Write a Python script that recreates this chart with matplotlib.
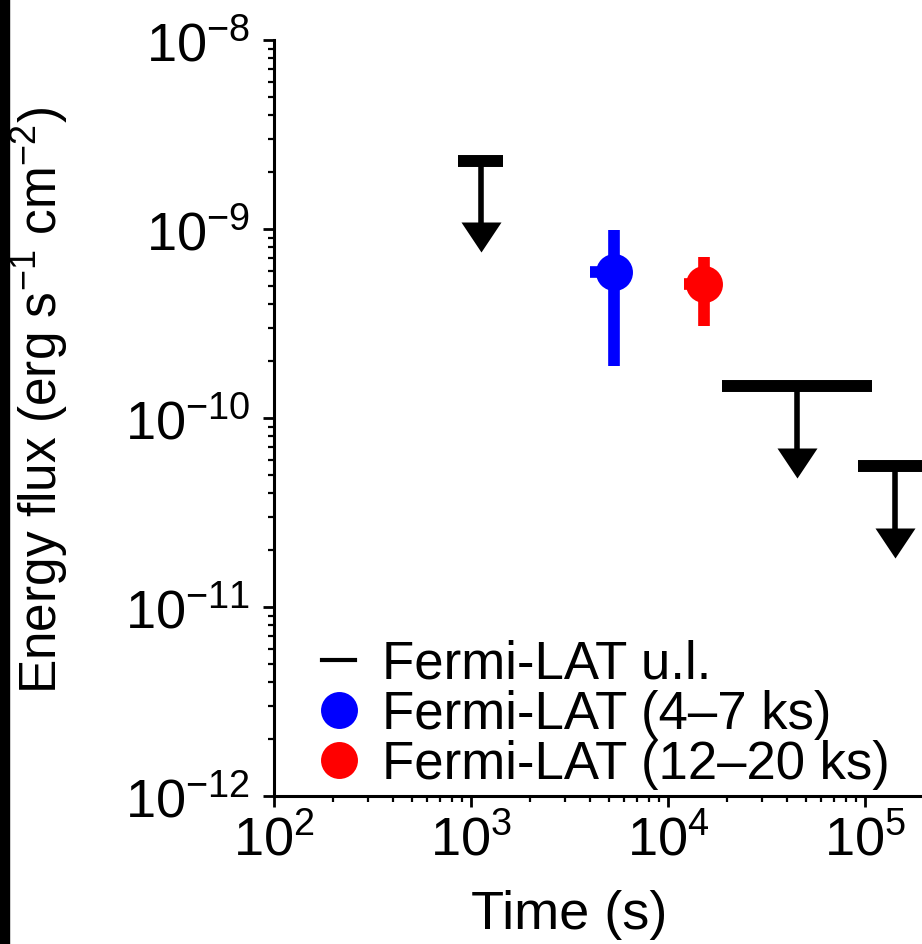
import numpy as np
import matplotlib
matplotlib.use("Agg")
import matplotlib.pyplot as plt
from matplotlib.lines import Line2D
from matplotlib.patches import Rectangle

plt.rcParams['font.family'] = ['Liberation Sans', 'DejaVu Sans']
plt.rcParams['mathtext.fontset'] = 'custom'
plt.rcParams['mathtext.rm'] = 'Liberation Sans'
plt.rcParams['mathtext.it'] = 'Liberation Sans:italic'
plt.rcParams['mathtext.bf'] = 'Liberation Sans:bold'

# ---- data ----
ul_time = [1120, 45200, 142000]
ul_time_lo = [860, 18800, 92000]
ul_time_hi = [1450, 108600, 219000]
ul_flux = [2.3e-9, 1.47e-10, 5.57e-11]

blue_time = [5320]
blue_time_lo = [4000]
blue_time_hi = [6200]
blue_flux = [5.9e-10]
blue_flux_lo = [1.88e-10]
blue_flux_hi = [9.9e-10]

red_time = [15240]
red_time_lo = [12000]
red_time_hi = [17800]
red_flux = [5.1e-10]
red_flux_lo = [3.07e-10]
red_flux_hi = [7.1e-10]

legend_labels = ['Fermi-LAT u.l.', 'Fermi-LAT (4\u20137 ks)', 'Fermi-LAT (12\u201320 ks)']

# ---- figure ----
W, H, DPI = 922, 945, 100
fig = plt.figure(figsize=(W / DPI, H / DPI), dpi=DPI)
ax = fig.add_axes([274 / W, 1 - 797 / H, 1 - 274 / W, (797 - 41) / H])

FS = 39
LFS = 38
ax.set_xscale('log')
ax.set_yscale('log')
ax.set_xlim(1e2, 10 ** (2 + 648 / 197))
ax.set_ylim(1e-12, 1e-8)

# upper limits
arrow_dex = 0.485
ul_time = np.array(ul_time); ul_flux = np.array(ul_flux)
ax.hlines(ul_flux, ul_time_lo, ul_time_hi, colors='k', lw=8.6, zorder=3)
tips = ul_flux / 10 ** arrow_dex
ax.vlines(ul_time, tips * 10 ** 0.09, ul_flux, colors='k', lw=4.0, zorder=3)
tri = [(0, 0), (-1, 1.5), (1, 1.5), (0, 0)]
ax.plot(ul_time, tips, ls='none', marker=tri, ms=43.2, color='k', mew=0, zorder=3)

# detections
def det(t, tlo, thi, f, flo, fhi, c):
    t = np.array(t); f = np.array(f)
    xerr = [t - np.array(tlo), np.array(thi) - t]
    yerr = [f - np.array(flo), np.array(fhi) - f]
    ax.errorbar(t, f, xerr=xerr, yerr=yerr, fmt='o', color=c, ms=26.6, mew=0,
                elinewidth=8.4, capsize=0, zorder=4)

det(blue_time, blue_time_lo, blue_time_hi, blue_flux, blue_flux_lo, blue_flux_hi, 'blue')
det(red_time, red_time_lo, red_time_hi, red_flux, red_flux_lo, red_flux_hi, 'red')

# axes styling
for s in ['top', 'right']:
    ax.spines[s].set_visible(False)
for s in ['left', 'bottom']:
    ax.spines[s].set_linewidth(2.2)
ax.tick_params(which='major', direction='out', length=8, width=2.0, labelsize=FS)
ax.tick_params(which='minor', direction='out', length=4.5, width=1.6)
ax.tick_params(axis='y', which='major', pad=9)
ax.tick_params(axis='x', which='major', pad=5)
ax.xaxis.set_major_locator(matplotlib.ticker.LogLocator(base=10, numticks=10))
ax.yaxis.set_major_locator(matplotlib.ticker.LogLocator(base=10, numticks=10))
ax.xaxis.set_minor_locator(matplotlib.ticker.LogLocator(base=10, subs=np.arange(2, 10), numticks=20))
ax.yaxis.set_minor_locator(matplotlib.ticker.LogLocator(base=10, subs=np.arange(2, 10), numticks=20))
ax.xaxis.set_minor_formatter(matplotlib.ticker.NullFormatter())
ax.yaxis.set_minor_formatter(matplotlib.ticker.NullFormatter())

ax.set_xlabel('Time (s)', fontsize=FS)
ax.set_ylabel('Energy flux (erg s$^{-1}$ cm$^{-2}$)', fontsize=37)
ax.xaxis.set_label_coords((569 - 274) / 648, -(890 - 797) / 756)
ax.yaxis.set_label_coords(-(274 - 70) / 648, 0.525)

handles = [Line2D([], [], color='k', lw=3),
           Line2D([], [], ls='none', marker='o', color='blue', ms=26.6, mew=0),
           Line2D([], [], ls='none', marker='o', color='red', ms=26.6, mew=0)]
ax.legend(handles, legend_labels, loc='lower left', bbox_to_anchor=(322 / W, 1 - 790 / H),
          bbox_transform=fig.transFigure, frameon=False, fontsize=LFS, borderpad=0,
          borderaxespad=0, handlelength=0.63, handletextpad=0.5, labelspacing=0.0)

fig.patches.append(Rectangle((0, 0), 8.5 / W, 1, transform=fig.transFigure,
                             color='black', zorder=10))

fig.savefig('out.png', dpi=DPI)
